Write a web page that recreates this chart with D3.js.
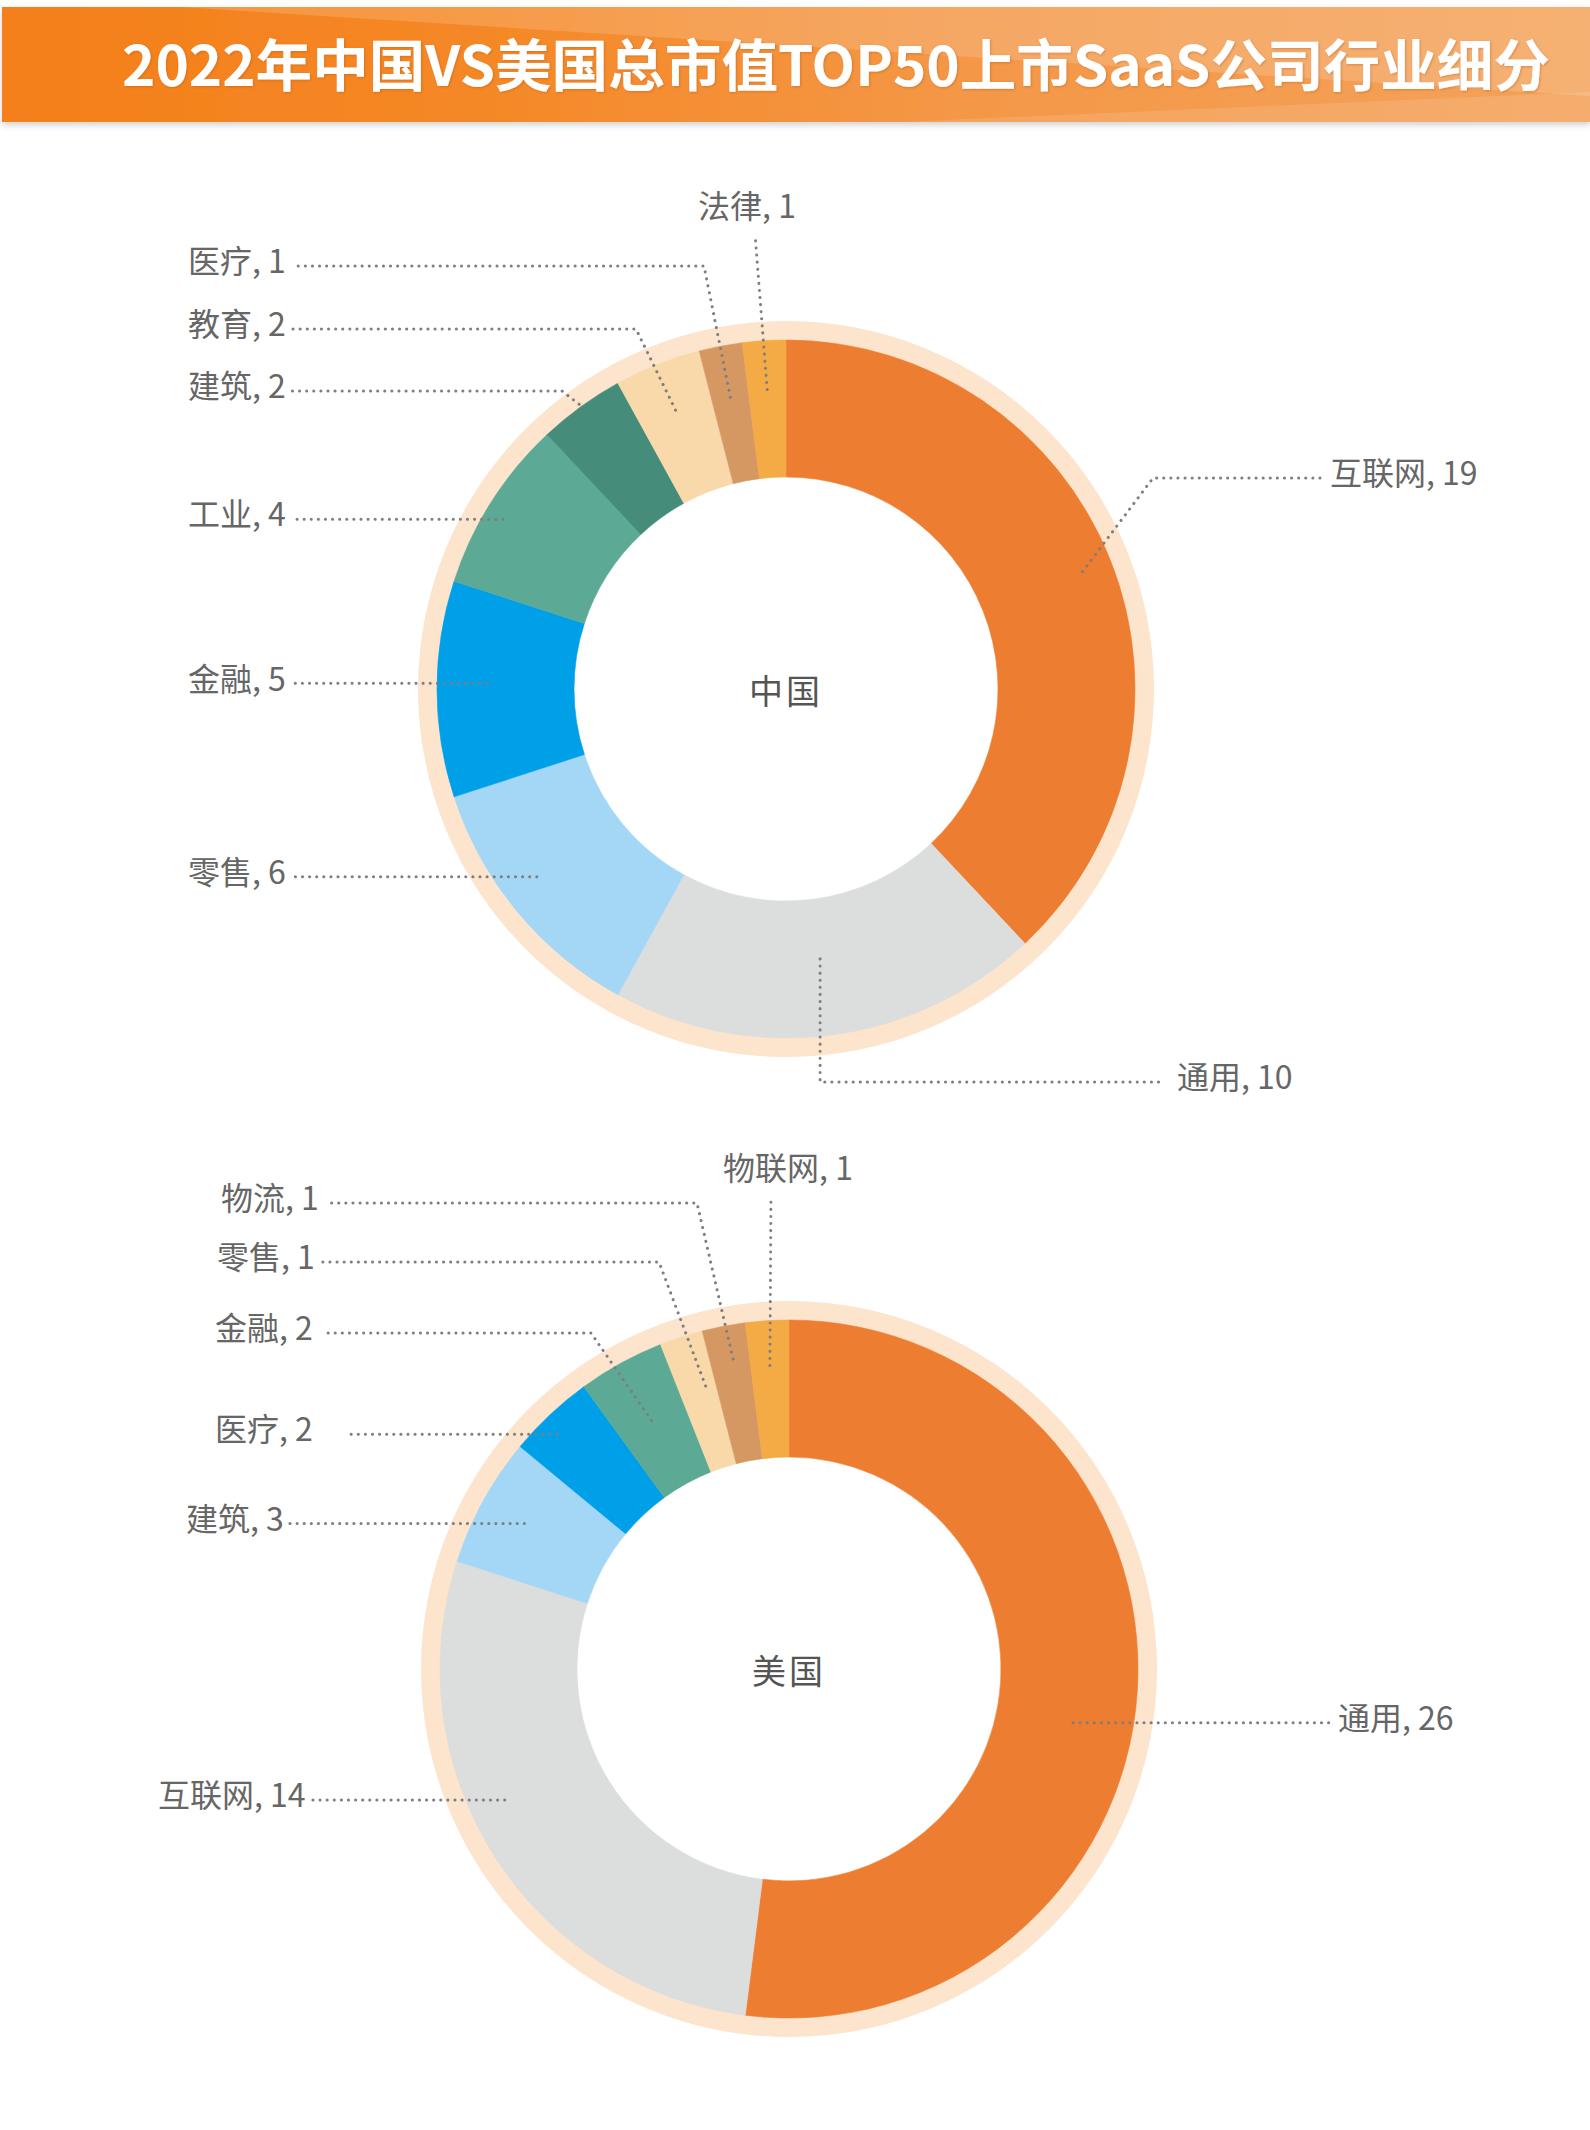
<!DOCTYPE html>
<html>
<head>
<meta charset="utf-8">
<script src="https://cdn.jsdelivr.net/npm/d3@7"></script>
<style>
  body { margin: 0; background: #fff; }
  svg { display: block; }
  text { font-family: "Noto Sans CJK SC", "Noto Sans", sans-serif; }
</style>
</head>
<body>
<div id="chart"></div>
<script>
/* China vs US top-50 SaaS companies by industry
 * two donut charts with dotted leader labels
 */

const TITLE = "2022年中国VS美国总市值TOP50上市SaaS公司行业细分";

// china, clockwise from 12 o'clock
const cnName   = "中国";
const cnLabels = ["互联网", "通用", "零售", "金融", "工业", "建筑", "教育", "医疗", "法律"];
const cnValues = [19, 10, 6, 5, 4, 2, 2, 1, 1];

// usa, clockwise from 12 o'clock
const usName   = "美国";
const usLabels = ["通用", "互联网", "建筑", "医疗", "金融", "零售", "物流", "物联网"];
const usValues = [26, 14, 3, 2, 2, 1, 1, 1];

// slice colours go by position, not by industry
const cnColors = ["#ED7D31", "#DCDDDD", "#A3D7F5", "#00A0E9", "#5CAA95", "#468C7B", "#F9D9A9", "#D69863", "#F4AA45"];
const usColors = ["#ED7D31", "#DCDDDD", "#A3D7F5", "#00A0E9", "#5CAA95", "#F9D9A9", "#D69863", "#F4AA45"];

const RING_COLOR = "#FCE4CD";
const LABEL_COLOR = "#666666";
const LINE_COLOR = "#7E7E7E";

const R_IN = 212, R_OUT = 349, R_RING = 368;

/* label placement, relative to the donut centre
 * r/t: where the leader starts (radius, fraction through the slice)
 * side: flat = horizontal line at anchor height, elbow = knee at kx,
 *       down = vertical then horizontal, up = straight to a label above
 */
const cnLayout = [
  { r: 319, t: 0.5,  side: "elbow", tx: 544,  ty: -215, kx: 367 },
  { r: 272, t: 0.5,  side: "down",  tx: 391,  ty: 389, gap: 14 },
  { r: 312, t: 0.56, side: "flat",  tx: -598 },
  { r: 299, t: 0.53, side: "flat",  tx: -598 },
  { r: 330, t: 0.45, side: "flat",  tx: -598 },
  { r: 352, t: 0.5,  side: "elbow", tx: -598, ty: -302, kx: -224 },
  { r: 300, t: 0.5,  side: "elbow", tx: -598, ty: -364, kx: -150 },
  { r: 297, t: 0.5,  side: "elbow", tx: -598, ty: -427, kx: -82 },
  { r: 300, t: 0.5,  side: "up",    tx: -39,  ty: -482, ex: -31 }
];

const usLayout = [
  { r: 289, t: 0.538, side: "flat",  tx: 549 },
  { r: 313, t: 0.576, side: "flat",  tx: -631 },
  { r: 302, t: 0.5,   side: "flat",  tx: -603 },
  { r: 330, t: 0.4,   side: "flat",  tx: -574, gap: 36 },
  { r: 284, t: 0.49,  side: "elbow", tx: -574, ty: -340, kx: -198, gap: 14 },
  { r: 295, t: 0.72,  side: "elbow", tx: -572, ty: -411, kx: -130 },
  { r: 315, t: 0.58,  side: "elbow", tx: -568, ty: -470, kx: -92 },
  { r: 304, t: 0.5,   side: "up",    tx: -1,   ty: -500, ex: -18 }
];

const W = 1590, H = 2130;

const svg = d3.select("#chart").append("svg")
  .attr("width", W)
  .attr("height", H);

drawBanner(svg);

drawDonut(svg, { cx: 786, cy: 689, name: cnName, labels: cnLabels, values: cnValues, colors: cnColors, layout: cnLayout });
drawDonut(svg, { cx: 789, cy: 1669, name: usName, labels: usLabels, values: usValues, colors: usColors, layout: usLayout });


/**
 * orange title banner across the top
 */
function drawBanner(svg) {

  const defs = svg.append("defs");

  const grad = defs.append("linearGradient")
    .attr("id", "banner-grad")
    .attr("x1", "0").attr("y1", "0")
    .attr("x2", "1").attr("y2", "0");
  grad.append("stop").attr("offset", "0%").attr("stop-color", "#F47F1A");
  grad.append("stop").attr("offset", "30%").attr("stop-color", "#F58826");
  grad.append("stop").attr("offset", "60%").attr("stop-color", "#F49746");
  grad.append("stop").attr("offset", "100%").attr("stop-color", "#F4A25A");

  const shadow = defs.append("filter")
    .attr("id", "banner-shadow")
    .attr("x", "-5%").attr("y", "-20%")
    .attr("width", "110%").attr("height", "150%");
  shadow.append("feDropShadow")
    .attr("dx", 0).attr("dy", 3)
    .attr("stdDeviation", 3)
    .attr("flood-color", "#000")
    .attr("flood-opacity", 0.18);

  const txtShadow = defs.append("filter").attr("id", "title-shadow");
  txtShadow.append("feDropShadow")
    .attr("dx", 1).attr("dy", 1)
    .attr("stdDeviation", 1.2)
    .attr("flood-color", "#A04A00")
    .attr("flood-opacity", 0.35);

  svg.append("rect")
    .attr("x", 2).attr("y", 7)
    .attr("width", W - 2).attr("height", 115)
    .attr("fill", "url(#banner-grad)")
    .attr("filter", "url(#banner-shadow)");

  // diagonal sheen
  svg.append("path")
    .attr("d", "M180,7 L1590,7 L1590,96 Z")
    .attr("fill", "#fff")
    .attr("opacity", 0.16);

  svg.append("path")
    .attr("d", "M900,122 L1590,92 L1590,122 Z")
    .attr("fill", "#fff")
    .attr("opacity", 0.12);

  svg.append("text")
    .attr("x", 122)
    .attr("y", 66)
    .attr("dy", "0.35em")
    .attr("fill", "#FFFFFF")
    .attr("font-size", "56px")
    .attr("font-weight", 700)
    .attr("textLength", 1428)
    .attr("lengthAdjust", "spacingAndGlyphs")
    .attr("filter", "url(#title-shadow)")
    .text(TITLE);
}


/**
 * one donut with pale outer ring, centre name and leader labels
 */
function drawDonut(svg, cfg) {

  const g = svg.append("g")
    .attr("transform", `translate(${cfg.cx},${cfg.cy})`);

  const data = cfg.labels.map((name, i) => ({
    name: name,
    value: cfg.values[i],
    color: cfg.colors[i]
  }));

  const pie = d3.pie()
    .sort(null)
    .value(d => d.value);

  const arcs = pie(data);

  // pale ring around the slices
  g.append("path")
    .attr("d", d3.arc()({
      innerRadius: R_OUT - 2,
      outerRadius: R_RING,
      startAngle: 0,
      endAngle: 2 * Math.PI
    }))
    .attr("fill", RING_COLOR);

  const arc = d3.arc()
    .innerRadius(R_IN)
    .outerRadius(R_OUT);

  g.selectAll("path.slice")
    .data(arcs)
    .enter()
    .append("path")
    .attr("class", "slice")
    .attr("d", arc)
    .attr("fill", d => d.data.color)
    .attr("stroke", d => d.data.color)
    .attr("stroke-width", 0.6);

  // centre name
  g.append("text")
    .attr("x", 0)
    .attr("y", 3)
    .attr("dy", "0.35em")
    .attr("text-anchor", "middle")
    .attr("font-size", "34px")
    .attr("fill", "#555")
    .attr("letter-spacing", "3px")
    .text(cfg.name);

  const line = d3.line();

  arcs.forEach((a, i) => {
    const L = cfg.layout[i];
    const th = a.startAngle + L.t * (a.endAngle - a.startAngle);
    const p = [L.r * Math.sin(th), -L.r * Math.cos(th)];

    const ty = L.side === "flat" ? p[1] - 4 : L.ty;
    const ly = ty + 4;

    const txt = g.append("text")
      .attr("x", L.tx)
      .attr("y", ty)
      .attr("dy", "0.35em")
      .attr("text-anchor", L.side === "up" ? "middle" : "start")
      .attr("font-size", "32px")
      .attr("fill", LABEL_COLOR)
      .text(`${a.data.name}, ${a.data.value}`);

    const w = txt.node().getComputedTextLength();
    const gap = L.gap || 6;

    const pts = [p];
    if (L.side === "up") {
      pts.push([L.ex, ty + 27]);
    } else {
      if (L.side === "elbow") pts.push([L.kx, ly]);
      if (L.side === "down") pts.push([p[0], ly]);
      pts.push(L.tx < 0 ? [L.tx + w + gap, ly] : [L.tx - gap, ly]);
    }

    g.append("path")
      .attr("d", line(pts))
      .attr("fill", "none")
      .attr("stroke", LINE_COLOR)
      .attr("stroke-width", 3)
      .attr("stroke-linecap", "round")
      .attr("stroke-dasharray", "0.1 7");
  });
}
</script>
</body>
</html>
